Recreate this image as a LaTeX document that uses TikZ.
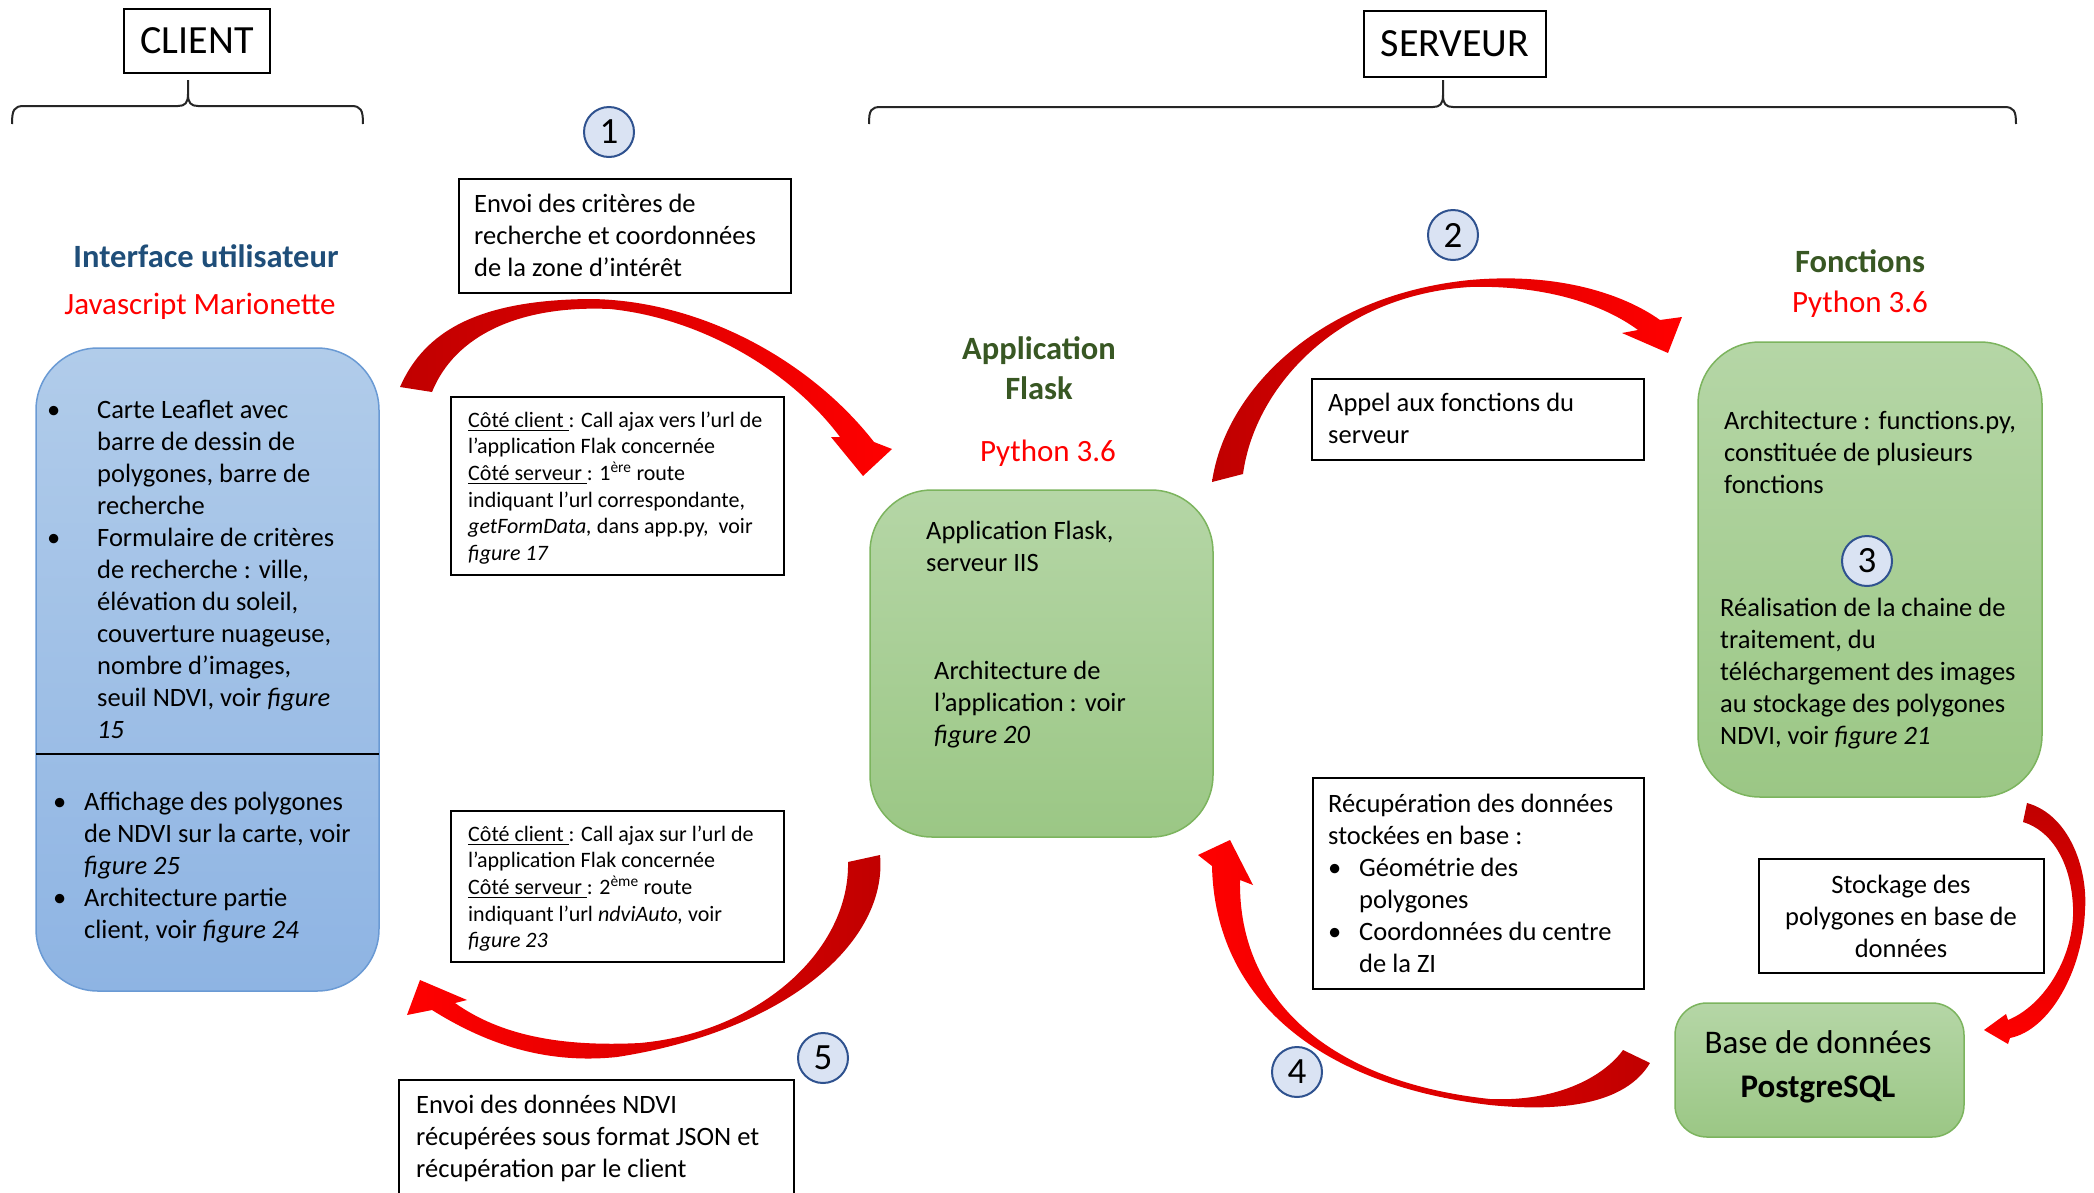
\documentclass[tikz,border=0pt]{standalone}
\usepackage{fontspec}
\setmainfont{Carlito}
\definecolor{hblue}{HTML}{1F4E79}
\definecolor{hgreen}{HTML}{385723}
\definecolor{bluetop}{HTML}{B1CCEA}
\definecolor{bluebot}{HTML}{8EB4E3}
\definecolor{blueline}{HTML}{6A9AD4}
\definecolor{greentop}{HTML}{B5D6A6}
\definecolor{greenbot}{HTML}{9BC785}
\definecolor{greenline}{HTML}{7CB45E}
\definecolor{circfill}{HTML}{DAE3F3}
\definecolor{circline}{HTML}{2F528F}
\definecolor{darkred}{HTML}{C00000}
\definecolor{brightred}{HTML}{FF0000}
\newcommand\myul[1]{\setbox0\hbox{#1}\rlap{\rule[-4pt]{\wd0}{1.1pt}}\box0}
\newcommand\bul[1]{\makebox[#1][l]{\textbullet}}
\begin{document}
\begin{tikzpicture}[x=1pt,y=-1pt,
  frame/.style={draw=black,line width=2.2pt,inner sep=0pt},
  bluebox/.style={draw=blueline,line width=1.5pt,rounded corners=62,top color=bluetop,bottom color=bluebot,inner sep=0pt},
  greenbox/.style={draw=greenline,line width=1.5pt,rounded corners=62,top color=greentop,bottom color=greenbot,inner sep=0pt},
  numc/.style={circle,draw=circline,fill=circfill,line width=2pt,minimum size=50pt,inner sep=0pt,font=\fontsize{37}{40}\selectfont},
  txt/.style={anchor=base west,inner sep=0pt,font=\fontsize{26.5}{32}\selectfont},
  stxt/.style={anchor=base west,inner sep=0pt,font=\fontsize{22}{26.7}\selectfont},
  head/.style={anchor=base,inner sep=0pt,font=\fontsize{32.5}{40}\selectfont\bfseries},
  redt/.style={anchor=base,inner sep=0pt,text=brightred,font=\fontsize{31}{38}\selectfont},
  brace/.style={line width=2pt,draw=black!85}
]
\useasboundingbox (0,0) rectangle (2094,1192);
\fill[white] (0,0) rectangle (2094,1192);

% ---------- top labels and braces ----------
\node[frame,minimum width=146pt,minimum height=64pt,font=\fontsize{40}{44}\selectfont] (client) at (197,41) {CLIENT};
\node[frame,minimum width=182pt,minimum height=66pt,font=\fontsize{40}{44}\selectfont] (serveur) at (1455,44) {SERVEUR};
\draw[brace] (12,124) .. controls (12,110) and (14,106) .. (24,106) -- (178,106) .. controls (185,106) and (188,103) .. (188,94) -- (188,80);
\draw[brace] (188,94) .. controls (188,103) and (191,106) .. (198,106) -- (351,106) .. controls (361,106) and (363,110) .. (363,124);
\draw[brace] (869,124) .. controls (869,110) and (871,107) .. (881,107) -- (1433,107) .. controls (1440,107) and (1443,104) .. (1443,95) -- (1443,80);
\draw[brace] (1443,95) .. controls (1443,104) and (1446,107) .. (1453,107) -- (2004,107) .. controls (2014,107) and (2016,111) .. (2016,124);

% ---------- client side ----------
\node[head,text=hblue] (titui) at (206,267) {Interface utilisateur};
\node[redt] (jsm) at (200,314) {Javascript Marionette};
\node[bluebox,minimum width=343pt,minimum height=643pt] (blue) at (207.5,669.5) {};
\draw[line width=2pt,black] (36,754) coordinate (dl) -- (379,754) coordinate (dr);
\node[txt] (bt1) at (47,418) {\begin{tabular}[t]{@{}l@{}l@{}}
\bul{50pt} & Carte Leaflet avec\\
 & barre de dessin de\\
 & polygones, barre de\\
 & recherche\\
\bul{50pt} & Formulaire de critères\\
 & de recherche : ville,\\
 & élévation du soleil,\\
 & couverture nuageuse,\\
 & nombre d’images,\\
 & seuil NDVI, voir \textit{figure}\\
 & \textit{15}
\end{tabular}};
\node[txt] (bt2) at (53,810) {\begin{tabular}[t]{@{}l@{}l@{}}
\bul{31pt} & Affichage des polygones\\
 & de NDVI sur la carte, voir\\
 & \textit{figure 25}\\
\bul{31pt} & Architecture partie\\
 & client, voir \textit{figure 24}
\end{tabular}};

% ---------- middle-left boxes ----------
\node[numc] (n1) at (609,132) {1};
\node[frame,minimum width=332pt,minimum height=114pt] (envoi) at (625,236) {};
\node[txt] (envoit) at (474,212) {\begin{tabular}[t]{@{}l@{}}Envoi des critères de\\recherche et coordonnées\\de la zone d’intérêt\end{tabular}};
\node[frame,minimum width=333pt,minimum height=178pt] (cc1) at (617.5,486) {};
\node[stxt] (cc1t) at (468,427) {\begin{tabular}[t]{@{}l@{}}\myul{Côté client\ }: Call ajax vers l’url de\\l’application Flak concernée\\\myul{Côté serveur\ }: 1\textsuperscript{ère} route\\indiquant l’url correspondante,\\\textit{getFormData,} dans app.py,~ voir\\\textit{figure 17}\end{tabular}};
\node[frame,minimum width=333pt,minimum height=151pt] (cc2) at (617.5,886.5) {};
\node[stxt] (cc2t) at (468,841) {\begin{tabular}[t]{@{}l@{}}\myul{Côté client\ }: Call ajax sur l’url de\\l’application Flak concernée\\\myul{Côté serveur\ }: 2\textsuperscript{ème} route\\indiquant l’url \textit{ndviAuto,} voir\\\textit{figure 23}\end{tabular}};
\node[numc] (n5) at (823,1058) {5};
\node[frame,minimum width=395pt,minimum height=120pt] (ndvi) at (596.5,1140) {};
\node[txt] (ndvit) at (416,1113) {\begin{tabular}[t]{@{}l@{}}Envoi des données NDVI\\récupérées sous format JSON et\\récupération par le client\end{tabular}};

% ---------- Flask ----------
\node[head,text=hgreen] (titfl) at (1039,359) {\begin{tabular}[t]{@{}c@{}}Application\\Flask\end{tabular}};
\node[redt] (pyfl) at (1048,461) {Python 3.6};
\node[greenbox,minimum width=343pt,minimum height=347pt] (flask) at (1041.5,663.5) {};
\node[txt] (flt1) at (926,539) {\begin{tabular}[t]{@{}l@{}}Application Flask,\\serveur IIS\end{tabular}};
\node[txt] (flt2) at (934,679) {\begin{tabular}[t]{@{}l@{}}Architecture de\\l’application : voir\\\textit{figure 20}\end{tabular}};

% ---------- server middle ----------
\node[numc] (n2) at (1453,235) {2};
\node[frame,minimum width=332pt,minimum height=81pt] (appel) at (1478,419.5) {};
\node[txt] (appelt) at (1328,411) {\begin{tabular}[t]{@{}l@{}}Appel aux fonctions du\\serveur\end{tabular}};
\node[frame,minimum width=331pt,minimum height=211pt] (recup) at (1478.5,883.5) {};
\node[txt] (recupt) at (1328,812) {\begin{tabular}[t]{@{}l@{}l@{}}
\multicolumn{2}{@{}l@{}}{Récupération des données}\\
\multicolumn{2}{@{}l@{}}{stockées en base :}\\
\bul{31pt} & Géométrie des\\
 & polygones\\
\bul{31pt} & Coordonnées du centre\\
 & de la ZI
\end{tabular}};
\node[numc] (n4) at (1297,1072) {4};

% ---------- Fonctions ----------
\node[head,text=hgreen] (titfo) at (1860,272) {Fonctions};
\node[redt] (pyfo) at (1860,312) {Python 3.6};
\node[greenbox,minimum width=344pt,minimum height=455pt] (fonc) at (1870,569.5) {};
\node[txt] (fot1) at (1724,429) {\begin{tabular}[t]{@{}l@{}}Architecture : functions.py,\\constituée de plusieurs\\fonctions\end{tabular}};
\node[numc] (n3) at (1867,561) {3};
\node[txt] (fot2) at (1720,616) {\begin{tabular}[t]{@{}l@{}}Réalisation de la chaine de\\traitement, du\\téléchargement des images\\au stockage des polygones\\NDVI, voir \textit{figure 21}\end{tabular}};
\node[frame,minimum width=285pt,minimum height=114pt] (stock) at (1901.5,916) {};
\node[txt,anchor=base] (stockt) at (1901,893) {\begin{tabular}[t]{@{}c@{}}Stockage des\\polygones en base de\\données\end{tabular}};
\node[greenbox,rounded corners=32,minimum width=289pt,minimum height=134pt] (db) at (1819.5,1070) {};
\node[anchor=base,inner sep=0pt,font=\fontsize{33}{44}\selectfont] (dbt) at (1818,1053) {\begin{tabular}[t]{@{}c@{}}Base de données\\\textbf{PostgreSQL}\end{tabular}};

% ---------- red curved arrows ----------
% 1 : client -> flask
\shade[left color=darkred,right color=brightred]
  (400,387) .. controls (425,330) and (480,300) .. (590,299)
  .. controls (700,300) and (810,360) .. (874,442)
  -- (892,449) -- (863,476) -- (831,437) -- (840,437)
  .. controls (790,370) and (700,318) .. (610,309)
  .. controls (520,305) and (455,335) .. (432,392) -- cycle;
% 2 : flask -> fonctions
\shade[left color=darkred,right color=brightred]
  (1212,482) .. controls (1225,390) and (1320,295) .. (1470,280)
  .. controls (1560,272) and (1625,295) .. (1660,320)
  -- (1682,317) -- (1668,353) -- (1622,333) -- (1638,330)
  .. controls (1600,302) and (1540,285) .. (1470,287)
  .. controls (1340,295) and (1255,385) .. (1243,474) -- cycle;
% 3 : fonctions -> db
\shade[top color=darkred,bottom color=brightred]
  (2027,803) .. controls (2070,815) and (2088,870) .. (2085,910)
  .. controls (2083,970) and (2050,1030) .. (2010,1038)
  -- (2008,1044) -- (1984,1030) -- (2006,1014) -- (2008,1020)
  .. controls (2045,1005) and (2075,955) .. (2073,907)
  .. controls (2071,860) and (2050,830) .. (2023,822) -- cycle;
% 4 : db -> flask
\shade[left color=brightred,right color=darkred]
  (1650,1063) .. controls (1625,1105) and (1560,1112) .. (1490,1105)
  .. controls (1320,1085) and (1215,1000) .. (1212,866)
  -- (1198,855) -- (1230,840) -- (1253,885) -- (1240,880)
  .. controls (1238,1000) and (1330,1082) .. (1490,1099)
  .. controls (1560,1102) and (1605,1075) .. (1623,1050) -- cycle;
% 5 : flask -> client
\shade[left color=brightred,right color=darkred]
  (880,855) .. controls (888,940) and (790,1030) .. (617,1057)
  .. controls (540,1065) and (480,1040) .. (432,1010)
  -- (407,1015) -- (420,980) -- (467,1000) -- (455,1003)
  .. controls (500,1035) and (560,1047) .. (640,1043)
  .. controls (760,1032) and (850,950) .. (848,862) -- cycle;
\end{tikzpicture}
\end{document}
